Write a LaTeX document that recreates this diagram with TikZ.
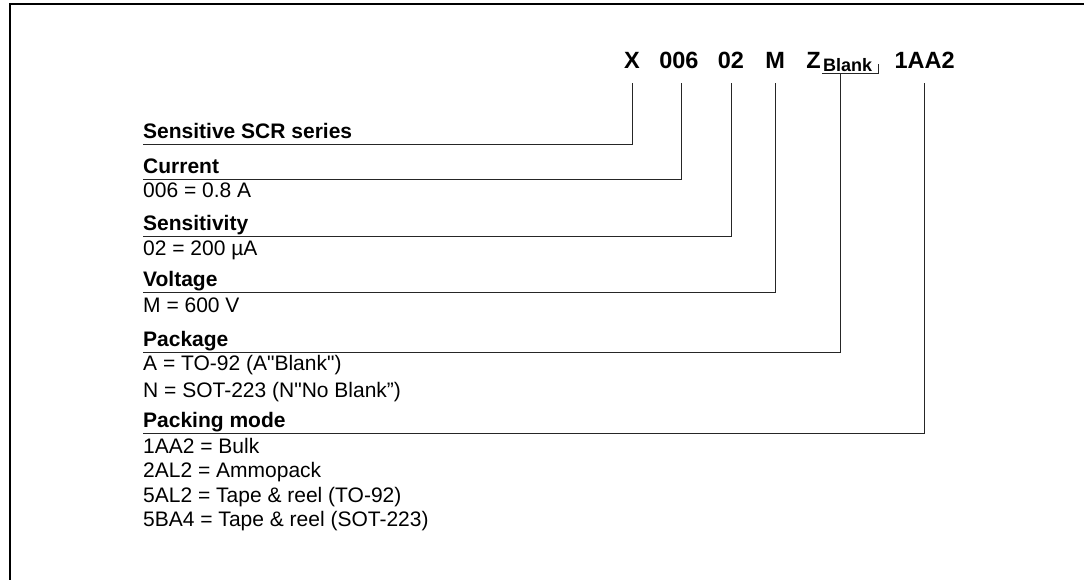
\documentclass[tikz,border=0pt]{standalone}
\usepackage{fontspec}
\setmainfont{Liberation Sans}
\newfontfamily\plainsans{Liberation Sans}
\usetikzlibrary{positioning}

\begin{document}
\begin{tikzpicture}[x=1pt, y=1pt,
  code/.style={inner sep=0pt, font=\fontsize{23.5}{28}\selectfont\bfseries},
  sub/.style={inner sep=0pt, font=\fontsize{18}{20}\selectfont\bfseries},
  head/.style={inner sep=0pt, anchor=south west, text depth=5pt, font=\fontsize{21}{25}\selectfont\bfseries},
  value/.style={inner sep=0pt, anchor=base west, font=\fontsize{21}{25}\selectfont},
  link/.style={line width=0.8pt, black!85}]

\useasboundingbox (0,0) rectangle (1084,-580);
% frame
\draw[line width=1.7pt] (10,-580) -- (10,-4) -- (1084,-4);

% part number
\node[code, anchor=base west] (cX) at (624,-69) {X};
\node[code, base right=19pt of cX] (cCur) {006};
\node[code, base right=19pt of cCur] (cSens) {02};
\node[code, base right=21pt of cSens] (cVolt) {M};
\node[code, base right=21pt of cVolt] (cZ) {Z};
\node[sub, anchor=base west] (cBlank) at ([xshift=2pt, yshift=-3pt]cZ.base east) {Blank};
\node[code, anchor=base west, xshift=22pt] (cMode) at (cBlank.base east |- cX.base) {1AA2};
\draw[link] ([xshift=-1pt, yshift=-1.5pt]cBlank.south west) -- ([xshift=6pt, yshift=-1.5pt]cBlank.south east) -- ++(0,10);

% legend
\node[head] (hSeries) at (143,-144) {Sensitive SCR series};
\node[head] (hCur) at (143,-179) {Current};
\node[value] (vCur) at ([yshift=-19pt]hCur.south west) {006 = 0.8 A};
\node[head] (hSens) at (143,-236) {Sensitivity};
\node[value] (vSens) at ([yshift=-19pt]hSens.south west) {02 = 200 µA};
\node[head] (hVolt) at (143,-292) {Voltage};
\node[value] (vVolt) at ([yshift=-20pt]hVolt.south west) {M = 600 V};
\node[head] (hPack) at (143,-352) {Package};
\node[value] (vPackA) at ([yshift=-18pt]hPack.south west) {A = TO-92 (A{\plainsans"}Blank{\plainsans"})};
\node[value] (vPackN) at ([yshift=-27pt]vPackA.base west) {N = SOT-223 (N{\plainsans"}No Blank”)};
\node[head] (hMode) at (143,-433) {Packing mode};
\node[value] (vBulk) at ([yshift=-20pt]hMode.south west) {1AA2 = Bulk};
\node[value] (vAmmo) at ([yshift=-24.5pt]vBulk.base west) {2AL2 = Ammopack};
\node[value] (vTape) at ([yshift=-24.5pt]vAmmo.base west) {5AL2 = Tape \& reel (TO-92)};
\node[value] (vTapeS) at ([yshift=-24.5pt]vTape.base west) {5BA4 = Tape \& reel (SOT-223)};

% leader lines
\draw[link] ([yshift=-14pt]cX.south) |- (hSeries.south west);
\draw[link] ([xshift=3pt, yshift=-14pt]cCur.south) |- (hCur.south west);
\draw[link] ([yshift=-14pt]cSens.south) |- (hSens.south west);
\draw[link] ([yshift=-14pt]cVolt.south) |- (hVolt.south west);
\draw[link] ([xshift=-7pt, yshift=-1.5pt]cBlank.south) |- (hPack.south west);
\draw[link] ([yshift=-14pt]cMode.south) |- (hMode.south west);
\end{tikzpicture}
\end{document}
